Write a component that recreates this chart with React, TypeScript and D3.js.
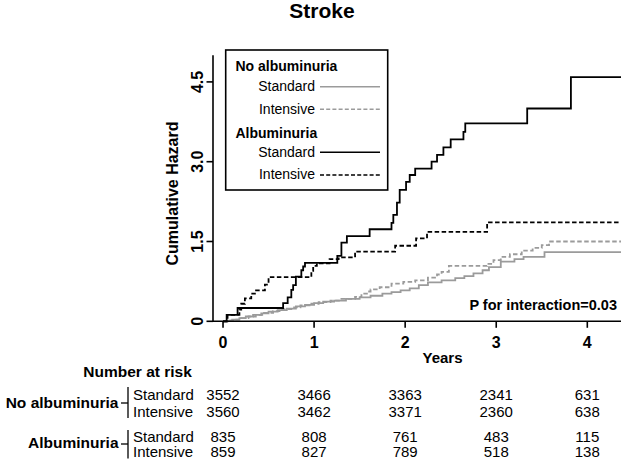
import React from "react";
import * as d3 from "d3";

// ---- Data (time in years, cumulative hazard) ----
const noAlbStandard: [number, number][] = [
  [0, 0], [0.05, 0.01], [0.1, 0.03], [0.18, 0.06], [0.25, 0.09], [0.33, 0.12], [0.42, 0.15],
  [0.5, 0.18], [0.6, 0.21], [0.7, 0.24], [0.8, 0.28], [0.9, 0.31], [1.0, 0.34], [1.1, 0.37],
  [1.22, 0.39], [1.35, 0.42], [1.5, 0.45], [1.62, 0.48], [1.75, 0.52], [1.85, 0.55],
  [1.95, 0.58], [2.05, 0.62], [2.15, 0.68], [2.25, 0.73], [2.4, 0.77], [2.55, 0.81],
  [2.65, 0.85], [2.75, 0.9], [2.85, 0.96], [2.92, 1.02], [3.05, 1.12], [3.2, 1.17],
  [3.3, 1.21], [3.53, 1.3], [4.37, 1.3],
];
const noAlbIntensive: [number, number][] = [
  [0, 0], [0.06, 0.01], [0.12, 0.03], [0.2, 0.06], [0.28, 0.09], [0.36, 0.12], [0.45, 0.16],
  [0.55, 0.19], [0.65, 0.23], [0.75, 0.26], [0.85, 0.3], [0.95, 0.33], [1.05, 0.36],
  [1.18, 0.39], [1.3, 0.42], [1.45, 0.46], [1.52, 0.52], [1.58, 0.56], [1.62, 0.6],
  [1.72, 0.64], [1.85, 0.71], [1.98, 0.74], [2.11, 0.77], [2.25, 0.82], [2.35, 0.88],
  [2.4, 0.93], [2.48, 1.04], [2.9, 1.08], [2.97, 1.15], [3.05, 1.21], [3.15, 1.26],
  [3.28, 1.33], [3.4, 1.38], [3.5, 1.43], [3.58, 1.5], [4.37, 1.5],
];
const albStandard: [number, number][] = [
  [0, 0], [0.04, 0.12], [0.16, 0.25], [0.66, 0.34], [0.71, 0.45], [0.75, 0.59], [0.77, 0.68],
  [0.8, 0.84], [0.86, 0.96], [0.88, 1.03], [0.9, 1.1], [1.255, 1.23], [1.3, 1.48],
  [1.36, 1.6], [1.61, 1.73], [1.85, 1.85], [1.87, 2.0], [1.91, 2.23], [1.94, 2.47],
  [2.01, 2.62], [2.05, 2.75], [2.11, 2.87], [2.29, 3.0], [2.35, 3.13], [2.42, 3.27],
  [2.5, 3.42], [2.64, 3.56], [2.66, 3.72], [3.34, 4.0], [3.82, 4.59], [4.37, 4.59],
];
const albIntensive: [number, number][] = [
  [0, 0], [0.05, 0.12], [0.18, 0.22], [0.2, 0.33], [0.24, 0.43], [0.31, 0.52], [0.35, 0.58],
  [0.46, 0.69], [0.5, 0.83], [0.97, 0.95], [0.99, 1.04], [1.03, 1.09], [1.17, 1.17],
  [1.27, 1.2], [1.45, 1.31], [1.89, 1.42], [2.12, 1.56], [2.24, 1.68], [2.9, 1.86],
  [4.37, 1.86],
];

const xTicks = [0, 1, 2, 3, 4];
const yTicks = [0, 1.5, 3.0, 4.5];
const yTickLabels = ["0", "1.5", "3.0", "4.5"];

const riskNoAlbStandard = [3552, 3466, 3363, 2341, 631];
const riskNoAlbIntensive = [3560, 3462, 3371, 2360, 638];
const riskAlbStandard = [835, 808, 761, 483, 115];
const riskAlbIntensive = [859, 827, 789, 518, 138];

const FONT = "'Liberation Sans', Arial, Helvetica, sans-serif";
const GRAY = "#9b9b9b";

export default function App() {
  const x = d3.scaleLinear().domain([-0.11, 4.37]).range([213, 621]);
  const y = d3.scaleLinear().domain([0, 5]).range([321.3, 55.3]);
  const line = d3
    .line<[number, number]>()
    .x((d) => x(d[0]))
    .y((d) => y(d[1]))
    .curve(d3.curveStepAfter);

  const series = [
    { data: noAlbStandard, color: GRAY, dash: undefined as string | undefined },
    { data: noAlbIntensive, color: GRAY, dash: "4.5,2.5" },
    { data: albIntensive, color: "#000", dash: "4.5,2.5" },
    { data: albStandard, color: "#000", dash: undefined },
  ];

  const legendItems = [
    { label: "Standard", y: 86.7, base: 91, color: GRAY, dash: undefined as string | undefined },
    { label: "Intensive", y: 109.3, base: 113.5, color: GRAY, dash: "4,2.2" },
    { label: "Standard", y: 152.3, base: 156.7, color: "#000", dash: undefined },
    { label: "Intensive", y: 175, base: 179.3, color: "#000", dash: "4,2.2" },
  ];

  const riskRows = [
    { label: "Standard", base: 400, vals: riskNoAlbStandard },
    { label: "Intensive", base: 416.7, vals: riskNoAlbIntensive },
    { label: "Standard", base: 442.3, vals: riskAlbStandard },
    { label: "Intensive", base: 456.7, vals: riskAlbIntensive },
  ];

  return (
    <svg
      width={625}
      height={462}
      style={{ position: "absolute", left: 0, top: 0, background: "#fff" }}
      fontFamily={FONT}
    >
      <rect x={0} y={0} width={625} height={462} fill="#fff" />
      {/* Title */}
      <text x={322} y={18} fontSize={21} fontWeight="bold" textAnchor="middle">
        Stroke
      </text>

      {/* Curves */}
      {series.map((s, i) => (
        <path
          key={i}
          d={line(s.data) || ""}
          fill="none"
          stroke={s.color}
          strokeWidth={1.8}
          strokeDasharray={s.dash}
        />
      ))}

      {/* Axes */}
      <line x1={213} x2={213} y1={y(5)} y2={y(0)} stroke="#000" strokeWidth={1.6} />
      <line x1={213} x2={621} y1={y(0)} y2={y(0)} stroke="#000" strokeWidth={1.6} />
      {yTicks.map((t, i) => (
        <g key={"yt" + i}>
          <line x1={206.5} x2={213} y1={y(t)} y2={y(t)} stroke="#000" strokeWidth={1.6} />
          <text
            transform={`translate(203,${y(t)}) rotate(-90)`}
            textAnchor="middle"
            fontSize={16}
            fontWeight="bold"
          >
            {yTickLabels[i]}
          </text>
        </g>
      ))}
      {xTicks.map((t) => (
        <g key={"xt" + t}>
          <line x1={x(t)} x2={x(t)} y1={y(0)} y2={y(0) + 6.5} stroke="#000" strokeWidth={1.6} />
          <text x={x(t)} y={347.5} textAnchor="middle" fontSize={16} fontWeight="bold">
            {t}
          </text>
        </g>
      ))}
      <text
        transform="translate(178,193.5) rotate(-90)"
        textAnchor="middle"
        fontSize={16}
        fontWeight="bold"
      >
        Cumulative Hazard
      </text>
      <text x={442.5} y={362.5} textAnchor="middle" fontSize={15} fontWeight="bold">
        Years
      </text>

      {/* P value */}
      <text x={617} y={310} textAnchor="end" fontSize={14.5} fontWeight="bold">
        P for interaction=0.03
      </text>

      {/* Legend */}
      <rect x={225.7} y={50} width={162} height={140} fill="#fff" stroke="#000" strokeWidth={1.6} />
      <text x={235.5} y={71} fontSize={14} fontWeight="bold">
        No albuminuria
      </text>
      <text x={235.5} y={138.3} fontSize={14} fontWeight="bold">
        Albuminuria
      </text>
      {legendItems.map((it, i) => (
        <g key={"lg" + i}>
          <text x={315} y={it.base} fontSize={14} textAnchor="end">
            {it.label}
          </text>
          <line
            x1={320}
            x2={380}
            y1={it.y}
            y2={it.y}
            stroke={it.color}
            strokeWidth={1.6}
            strokeDasharray={it.dash}
          />
        </g>
      ))}

      {/* Number at risk */}
      <text x={83.3} y={376.7} fontSize={15.5} fontWeight="bold">
        Number at risk
      </text>
      <text x={118.5} y={408.3} fontSize={15.5} fontWeight="bold" textAnchor="end">
        No albuminuria
      </text>
      <text x={118.5} y={448} fontSize={15.5} fontWeight="bold" textAnchor="end">
        Albuminuria
      </text>
      <line x1={128} x2={128} y1={387} y2={418} stroke="#000" strokeWidth={1.3} />
      <line x1={121} x2={128} y1={403} y2={403} stroke="#000" strokeWidth={1.3} />
      <line x1={128} x2={128} y1={430} y2={458.5} stroke="#000" strokeWidth={1.3} />
      <line x1={121} x2={128} y1={444} y2={444} stroke="#000" strokeWidth={1.3} />
      {riskRows.map((r, i) => (
        <g key={"rr" + i}>
          <text x={133} y={r.base} fontSize={15}>
            {r.label}
          </text>
          {r.vals.map((v, j) => (
            <text key={j} x={x(xTicks[j])} y={r.base} fontSize={15} textAnchor="middle">
              {v}
            </text>
          ))}
        </g>
      ))}
    </svg>
  );
}
